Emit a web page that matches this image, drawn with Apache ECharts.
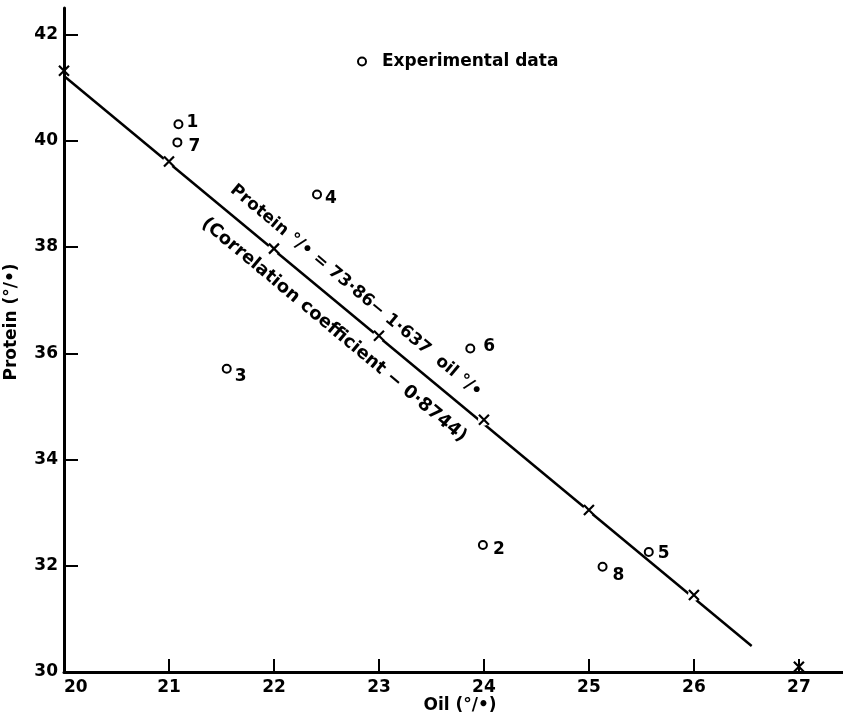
<!DOCTYPE html>
<html><head><meta charset="utf-8">
<script src="https://cdn.jsdelivr.net/npm/echarts@6/dist/echarts.min.js"></script>
<style>html,body{margin:0;padding:0;background:#fff}#c{width:843px;height:715px}</style>
</head><body><div id="c"></div>
<script>
// Experimental data points (label id, oil %, protein %)
const pointIds = ['1','2','3','4','5','6','7','8'];
const pointOil = [21.09, 23.99, 21.55, 22.41, 25.57, 23.87, 21.08, 25.13];
const pointProtein = [40.31, 32.39, 35.71, 38.99, 32.26, 36.09, 39.97, 31.98];
// Regression line crosses
const crossOil = [20, 21, 22, 23, 24, 25, 26, 27];
const crossProtein = [41.32, 39.61, 37.97, 36.33, 34.75, 33.05, 31.45, 30.1];
// Fitted line end points
const fitOil = [20, 26.55];
const fitProtein = [41.22, 30.49];
// Tick labels
const xTickLabels = [20, 21, 22, 23, 24, 25, 26, 27];
const xTicks = [21, 22, 23, 24, 25, 26, 27];
const yTickLabels = [30, 32, 34, 36, 38, 40, 42];
const yTicks = [32, 34, 36, 38, 40, 42];
// label style offsets (per point)
const labelOffsets = [[0,-2],[2,5],[0,8],[0,4],[1,2],[5,-2],[3,4],[2,9]];

const FONT = 'DejaVu Sans';
const txt = {fontFamily: FONT, fontSize: 17, fontWeight: 'bold', color: '#000'};

const chart = echarts.init(document.getElementById('c'), null, {renderer: 'canvas'});
const ang = -39.8 * Math.PI / 180;
chart.setOption({
  animation: false,
  backgroundColor: '#fff',
  grid: {left: 64, right: 0, top: 8, bottom: 43, containLabel: false},
  legend: {
    data: ['Experimental data'], left: 352, top: 48,
    itemWidth: 30, itemHeight: 8, icon: 'circle',
    itemStyle: {color: '#fff', borderColor: '#000', borderWidth: 2, opacity: 1},
    textStyle: {fontFamily: FONT, fontSize: 17, fontWeight: 'bold', color: '#000'}
  },
  xAxis: {
    type: 'value', min: 20, max: 27.42,
    axisLine: {onZero: false, lineStyle: {color: '#000', width: 3}},
    axisTick: {inside: true, length: 13, lineStyle: {color: '#000', width: 2}, customValues: xTicks},
    axisLabel: Object.assign({customValues: xTickLabels, margin: 7, alignMinLabel: 'left'}, txt),
    splitLine: {show: false}
  },
  yAxis: {
    type: 'value', min: 30, max: 42.5,
    axisLine: {onZero: false, lineStyle: {color: '#000', width: 3}},
    axisTick: {inside: true, length: 14, lineStyle: {color: '#000', width: 2}, customValues: yTicks},
    axisLabel: Object.assign({customValues: yTickLabels, margin: 6}, txt),
    splitLine: {show: false}
  },
  series: [
    {
      type: 'line', name: 'fit', data: fitOil.map((x, i) => [x, fitProtein[i]]),
      symbol: 'none', lineStyle: {color: '#000', width: 2.5}, z: 2, silent: true
    },
    {
      type: 'scatter', name: 'mask', silent: true, z: 3,
      data: crossOil.map((x, i) => [x, crossProtein[i]]).filter(d => d[0] > 20 && d[0] < 27),
      symbol: 'circle', symbolSize: 12, itemStyle: {color: '#fff', opacity: 1}
    },
    {
      type: 'scatter', name: 'crosses', z: 4,
      data: crossOil.map((x, i) => [x, crossProtein[i]]),
      symbol: 'path://M0,0L10,10M10,0L0,10', symbolSize: 10,
      itemStyle: {color: 'rgba(0,0,0,0)', borderColor: '#000', borderWidth: 2.2, opacity: 1}
    },
    {
      type: 'scatter', name: 'Experimental data', z: 5,
      data: pointOil.map((x, i) => ({
        value: [x, pointProtein[i]],
        label: {offset: labelOffsets[i]}
      })),
      symbol: 'emptyCircle', symbolSize: 8,
      itemStyle: {color: '#000', borderWidth: 2, opacity: 1},
      label: Object.assign({show: true, position: 'right', distance: 3,
        formatter: p => pointIds[p.dataIndex]}, txt)
    }
  ],
  graphic: [
    {type: 'text', x: 12, y: 322, rotation: Math.PI / 2,
     style: {text: 'Protein (°/•)', font: 'bold 17px "DejaVu Sans"', fill: '#000', textAlign: 'center', textVerticalAlign: 'middle'}},
    {type: 'text', x: 460, y: 706,
     style: {text: 'Oil (°/•)', font: 'bold 17px "DejaVu Sans"', fill: '#000', textAlign: 'center', textVerticalAlign: 'middle'}},
    {type: 'text', x: 356, y: 291, rotation: ang,
     style: {text: 'Protein °/• = 73·86− 1·637  oil °/•', font: 'bold 17px "DejaVu Sans"', fill: '#000', textAlign: 'center', textVerticalAlign: 'middle'}},
    {type: 'text', x: 334, y: 330, rotation: ang,
     style: {text: '(Correlation coefficient − 0·8744)', font: 'bold 18px "DejaVu Sans"', fill: '#000', textAlign: 'center', textVerticalAlign: 'middle'}}
  ]
});
</script></body></html>
